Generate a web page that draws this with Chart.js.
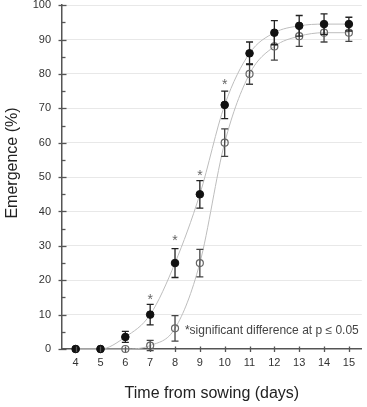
<!DOCTYPE html>
<html>
<head>
<meta charset="utf-8">
<script src="https://cdn.jsdelivr.net/npm/chart.js@4"></script>
<style>
  html, body { margin: 0; padding: 0; background: #fff; }
  #wrap { width: 367px; height: 407px; position: relative; }
</style>
</head>
<body>
<div id="wrap"><canvas id="chart"></canvas></div>
<script>
// values
const days = [4, 5, 6, 7, 8, 9, 10, 11, 12, 13, 14, 15];
const filledMean = [0, 0, 3.5, 10, 25, 45, 71, 86, 92, 94, 94.5, 94.5];
const filledErr = [0, 0, 1.6, 3, 4.2, 4, 4, 3.3, 3.5, 3, 3, 2];
const openMean = [0, 0, 0, 1, 6, 25, 60, 80, 88, 91, 92, 92];
const openErr = [0, 0, 0, 1.5, 3.7, 4, 4, 3, 4, 3, 2.7, 2.5];
const starDays = [7, 8, 9, 10];
const starValues = [15.5, 32.5, 51.5, 78];
const xTickValues = [4, 5, 6, 7, 8, 9, 10, 11, 12, 13, 14, 15];
const yTickValues = [0, 5, 10, 15, 20, 25, 30, 35, 40, 45, 50, 55, 60, 65, 70, 75, 80, 85, 90, 95, 100];

const FONT = "'Liberation Sans', Arial, sans-serif";
const noteText = '*significant difference at p \u2264 0.05';
const notePos = { x: 8.4, y: 5.2 };

const toPoints = (ys) => days.map((d, i) => ({ x: d, y: ys[i] }));

const extras = {
  id: 'extras',
  beforeDatasetDraw(chart, args) {
    const ds = chart.data.datasets[args.index];
    if (!ds.errors) return;
    const { ctx, scales: { x, y } } = chart;
    ctx.save();
    ctx.strokeStyle = ds.errColor;
    ctx.lineWidth = 1.3;
    ds.data.forEach((p, i) => {
      const e = ds.errors[i];
      if (!e) return;
      const px = x.getPixelForValue(p.x);
      const top = y.getPixelForValue(p.y + e);
      const bot = y.getPixelForValue(p.y - e);
      ctx.beginPath();
      ctx.moveTo(px, top); ctx.lineTo(px, bot);
      ctx.moveTo(px - 3.5, top); ctx.lineTo(px + 3.5, top);
      ctx.moveTo(px - 3.5, bot); ctx.lineTo(px + 3.5, bot);
      ctx.stroke();
    });
    ctx.restore();
  },
  afterDraw(chart) {
    const { ctx, chartArea, scales: { x, y } } = chart;
    ctx.save();
    // tick marks crossing the axes
    ctx.strokeStyle = '#555';
    ctx.lineWidth = 1.3;
    const ax = chartArea.left;
    yTickValues.forEach(v => {
      const py = Math.round(y.getPixelForValue(v)) + 0.5;
      const major = v % 10 === 0;
      ctx.beginPath();
      ctx.moveTo(ax - (major ? 3.5 : 0.5), py);
      ctx.lineTo(ax + (major ? 4.5 : 3.5), py);
      ctx.stroke();
    });
    const ay = chartArea.bottom;
    xTickValues.forEach(v => {
      const px = Math.round(x.getPixelForValue(v)) + 0.5;
      ctx.beginPath();
      ctx.moveTo(px, ay - 2.5);
      ctx.lineTo(px, ay + 3);
      ctx.stroke();
    });
    // significance stars
    ctx.fillStyle = '#666';
    ctx.font = '14px ' + FONT;
    ctx.textAlign = 'center';
    ctx.textBaseline = 'alphabetic';
    starDays.forEach((d, i) => {
      ctx.fillText('*', x.getPixelForValue(d), y.getPixelForValue(starValues[i]) + 8);
    });
    // note
    ctx.fillStyle = '#444';
    ctx.font = '12px ' + FONT;
    ctx.textAlign = 'left';
    ctx.textBaseline = 'middle';
    ctx.fillText(noteText, x.getPixelForValue(notePos.x), y.getPixelForValue(notePos.y));
    // y axis title
    ctx.fillStyle = '#222';
    ctx.font = '16px ' + FONT;
    ctx.textAlign = 'center';
    ctx.translate(13, 163);
    ctx.rotate(-Math.PI / 2);
    ctx.fillText('Emergence (%)', 0, 0);
    ctx.restore();
  }
};

new Chart(document.getElementById('chart'), {
  type: 'scatter',
  data: {
    datasets: [
      {
        data: toPoints(filledMean),
        errors: filledErr,
        errColor: '#222',
        pointRadius: 3.8,
        pointBackgroundColor: '#111',
        pointBorderColor: '#111',
        pointBorderWidth: 1,
        clip: false,
        order: 0
      },
      {
        data: toPoints(openMean),
        errors: openErr,
        errColor: '#444',
        pointRadius: 3.5,
        pointBackgroundColor: 'rgba(255,255,255,0)',
        pointBorderColor: '#666',
        pointBorderWidth: 1.2,
        clip: false,
        order: 1
      },
      {
        data: toPoints(filledMean),
        showLine: true,
        pointRadius: 0,
        borderColor: '#bdbdbd',
        borderWidth: 1,
        cubicInterpolationMode: 'monotone',
        clip: false,
        order: 2
      },
      {
        data: toPoints(openMean),
        showLine: true,
        pointRadius: 0,
        borderColor: '#bdbdbd',
        borderWidth: 1,
        cubicInterpolationMode: 'monotone',
        clip: false,
        order: 3
      }
    ]
  },
  options: {
    responsive: true,
    maintainAspectRatio: false,
    animation: false,
    layout: { padding: 0 },
    plugins: {
      legend: { display: false },
      tooltip: { enabled: false }
    },
    scales: {
      x: {
        type: 'linear',
        min: 3.45,
        max: 15.52,
        afterBuildTicks: (s) => { s.ticks = xTickValues.map(v => ({ value: v })); },
        afterFit: (s) => { s.height = 58; s.paddingLeft = 0; s.paddingRight = 0; },
        grid: { display: true, color: 'rgba(0,0,0,0)', drawTicks: false },
        border: { display: true, color: '#555', width: 1.5 },
        ticks: {
          autoSkip: false,
          maxRotation: 0,
          padding: 7,
          color: '#333',
          font: { family: FONT, size: 11 }
        },
        title: {
          display: true,
          text: 'Time from sowing (days)',
          color: '#222',
          padding: { top: 0, bottom: 4 },
          font: { family: FONT, size: 16 }
        }
      },
      y: {
        min: 0,
        max: 100,
        afterBuildTicks: (s) => { s.ticks = yTickValues.map(v => ({ value: v })); },
        afterFit: (s) => { s.width = 62; s.paddingTop = 3; s.paddingBottom = 0; },
        grid: {
          drawTicks: false,
          color: (c) => (c.tick && c.tick.value > 0 && c.tick.value % 10 === 0) ? '#e8e8e8' : 'rgba(0,0,0,0)',
          lineWidth: 1
        },
        border: { display: true, color: '#555', width: 1.5 },
        ticks: {
          autoSkip: false,
          padding: 11,
          color: '#333',
          font: { family: FONT, size: 11 },
          callback: (v) => (v % 10 === 0 ? v : '')
        }
      }
    }
  },
  plugins: [extras]
});
</script>
</body>
</html>
